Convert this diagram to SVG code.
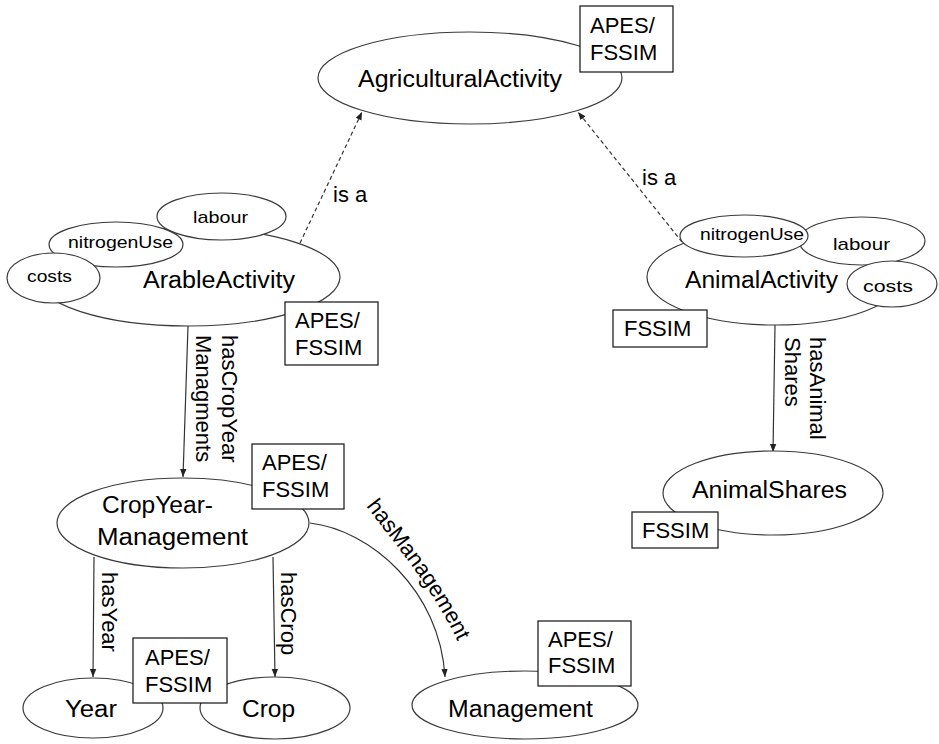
<svg xmlns="http://www.w3.org/2000/svg" width="939" height="744" viewBox="0 0 939 744">
  <style>
    text { font-family: "Liberation Sans", Arial, sans-serif; fill: #000; }
    .node ellipse, .prop ellipse { fill: #fff; stroke: #3a3a3a; stroke-width: 1.2; }
    .name { font-size: 23px; }
    .small { font-size: 17px; }
    .tag rect { fill: #fff; stroke: #111; stroke-width: 1.2; }
    .tag text { font-size: 22px; }
    .edge { fill: none; stroke: #333; stroke-width: 1.2; }
    .dashed { stroke-dasharray: 4 3; }
    .elabel { font-size: 22px; }
  </style>
  <defs>
    <marker id="arrow" viewBox="0 0 10 10" refX="10" refY="5" markerWidth="8" markerHeight="8" markerUnits="userSpaceOnUse" orient="auto">
      <path d="M0,1 L10,5 L0,9 z" fill="#222"/>
    </marker>
    <path id="hasManagementPath" d="M366,506 C398,548 432,588 458,642"/>
  </defs>

  <!-- connectors -->
  <g id="connectors">
    <path class="edge dashed" d="M300,243 L362,112" marker-end="url(#arrow)"/>
    <path class="edge dashed" d="M682,242 L578,112" marker-end="url(#arrow)"/>
    <path class="edge" d="M188,326 L183,477" marker-end="url(#arrow)"/>
    <path class="edge" d="M775,325 L773,452" marker-end="url(#arrow)"/>
    <path class="edge" d="M94,557 L93,677" marker-end="url(#arrow)"/>
    <path class="edge" d="M273,557 L275,677" marker-end="url(#arrow)"/>
    <path class="edge" d="M310,523 C370,530 440,590 445,677" marker-end="url(#arrow)"/>

    <text class="elabel" x="333" y="202">is a</text>
    <text class="elabel" x="642" y="185">is a</text>
    <text class="elabel" transform="translate(222,335) rotate(90)">hasCropYear</text>
    <text class="elabel" transform="translate(196,335) rotate(90)">Managments</text>
    <text class="elabel" transform="translate(810,337) rotate(90)">hasAnimal</text>
    <text class="elabel" transform="translate(785,337) rotate(90)">Shares</text>
    <text class="elabel" transform="translate(102,572) rotate(90)">hasYear</text>
    <text class="elabel" transform="translate(281,572) rotate(90)">hasCrop</text>
    <text class="elabel"><textPath href="#hasManagementPath">hasManagement</textPath></text>
  </g>

  <!-- top class -->
  <g id="AgriculturalActivity" class="node">
    <ellipse cx="470" cy="78" rx="152" ry="46"/>
    <text class="name" x="358" y="87" textLength="204" lengthAdjust="spacingAndGlyphs">AgriculturalActivity</text>
    <g class="tag">
      <rect x="580" y="6" width="93" height="66"/>
      <text x="590" y="33">APES/</text>
      <text x="590" y="60">FSSIM</text>
    </g>
  </g>

  <!-- arable activity with its properties -->
  <g id="ArableActivity" class="node">
    <ellipse cx="188" cy="277" rx="152" ry="49"/>
    <text class="name" x="143" y="288" textLength="152" lengthAdjust="spacingAndGlyphs">ArableActivity</text>
  </g>
  <g id="arable-labour" class="prop">
    <ellipse cx="221.5" cy="216.5" rx="64.5" ry="23.5"/>
    <text class="small" x="193" y="223" textLength="55" lengthAdjust="spacingAndGlyphs">labour</text>
  </g>
  <g id="arable-nitrogenUse" class="prop">
    <ellipse cx="116" cy="244.5" rx="67" ry="22.5"/>
    <text class="small" x="68" y="248" textLength="105" lengthAdjust="spacingAndGlyphs">nitrogenUse</text>
  </g>
  <g id="arable-costs" class="prop">
    <ellipse cx="53.5" cy="278" rx="46.5" ry="25"/>
    <text class="small" x="27" y="282" textLength="45" lengthAdjust="spacingAndGlyphs">costs</text>
  </g>
  <g id="arable-tag" class="tag">
    <rect x="285" y="302" width="93" height="63"/>
    <text x="295" y="328">APES/</text>
    <text x="295" y="355">FSSIM</text>
  </g>

  <!-- animal activity with its properties -->
  <g id="AnimalActivity" class="node">
    <ellipse cx="775" cy="277" rx="128" ry="48"/>
    <text class="name" x="685" y="288" textLength="153" lengthAdjust="spacingAndGlyphs">AnimalActivity</text>
  </g>
  <g id="animal-labour" class="prop">
    <ellipse cx="862" cy="241" rx="63" ry="24"/>
    <text class="small" x="833" y="250" textLength="57" lengthAdjust="spacingAndGlyphs">labour</text>
  </g>
  <g id="animal-nitrogenUse" class="prop">
    <ellipse cx="744" cy="236" rx="64" ry="21"/>
    <text class="small" x="700" y="240" textLength="104" lengthAdjust="spacingAndGlyphs">nitrogenUse</text>
  </g>
  <g id="animal-costs" class="prop">
    <ellipse cx="892" cy="284" rx="45" ry="23"/>
    <text class="small" x="863" y="292" textLength="50" lengthAdjust="spacingAndGlyphs">costs</text>
  </g>
  <g id="animal-tag" class="tag">
    <rect x="613" y="310" width="94" height="37"/>
    <text x="624" y="336">FSSIM</text>
  </g>

  <!-- animal shares -->
  <g id="AnimalShares" class="node">
    <ellipse cx="773" cy="493" rx="110" ry="42"/>
    <text class="name" x="692" y="498" textLength="155" lengthAdjust="spacingAndGlyphs">AnimalShares</text>
    <g class="tag">
      <rect x="632" y="512" width="86" height="36"/>
      <text x="642" y="538">FSSIM</text>
    </g>
  </g>

  <!-- crop year management -->
  <g id="CropYearManagement" class="node">
    <ellipse cx="183" cy="523" rx="126" ry="45"/>
    <text class="name" x="102" y="513" textLength="111" lengthAdjust="spacingAndGlyphs">CropYear-</text>
    <text class="name" x="97" y="545" textLength="151" lengthAdjust="spacingAndGlyphs">Management</text>
    <g class="tag">
      <rect x="252" y="444" width="92" height="65"/>
      <text x="262" y="470">APES/</text>
      <text x="262" y="497">FSSIM</text>
    </g>
  </g>

  <!-- leaves -->
  <g id="Year" class="node">
    <ellipse cx="93" cy="708" rx="70" ry="30"/>
    <text class="name" x="65" y="717" textLength="52" lengthAdjust="spacingAndGlyphs">Year</text>
  </g>
  <g id="Crop" class="node">
    <ellipse cx="275" cy="708" rx="75" ry="31"/>
    <text class="name" x="242" y="717" textLength="53" lengthAdjust="spacingAndGlyphs">Crop</text>
  </g>
  <g id="year-crop-tag" class="tag">
    <rect x="133" y="638" width="94" height="65"/>
    <text x="145" y="665">APES/</text>
    <text x="145" y="692">FSSIM</text>
  </g>
  <g id="Management" class="node">
    <ellipse cx="525" cy="705" rx="113" ry="34"/>
    <text class="name" x="448" y="717" textLength="145" lengthAdjust="spacingAndGlyphs">Management</text>
    <g class="tag">
      <rect x="538" y="621" width="93" height="65"/>
      <text x="548" y="647">APES/</text>
      <text x="548" y="673">FSSIM</text>
    </g>
  </g>
</svg>
